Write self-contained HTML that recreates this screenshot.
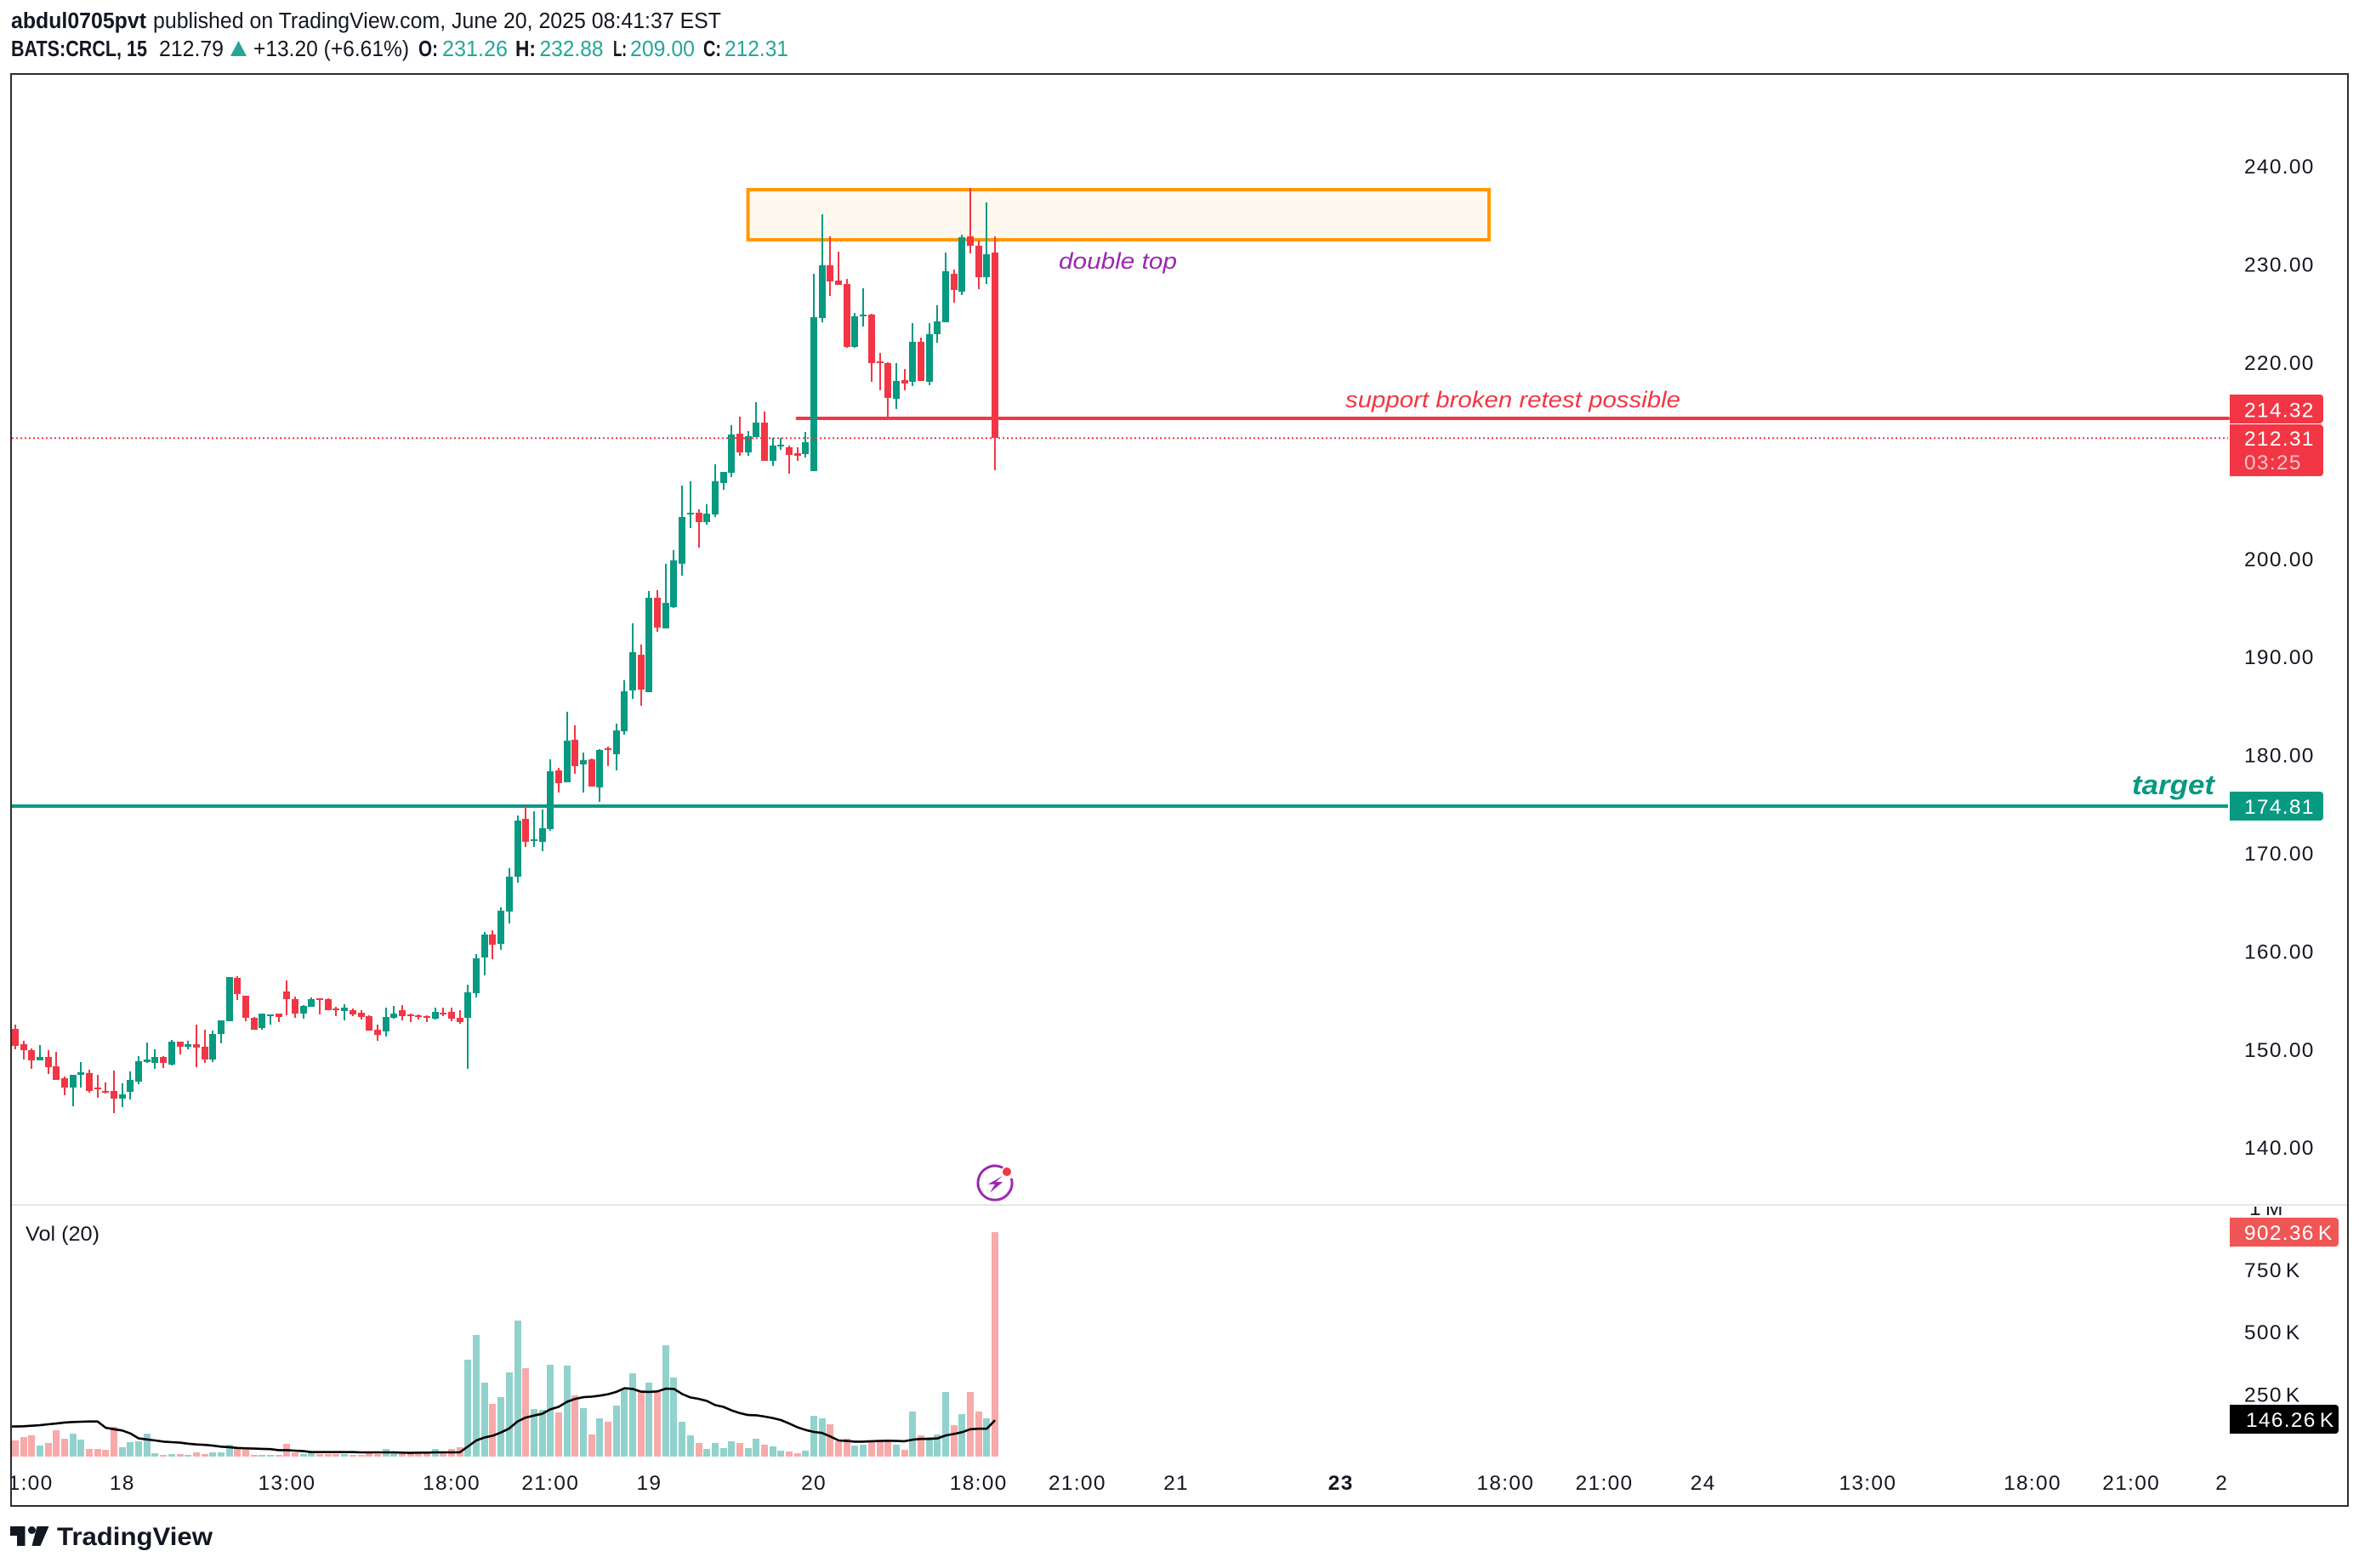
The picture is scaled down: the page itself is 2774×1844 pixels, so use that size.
<!DOCTYPE html>
<html lang="en">
<head>
<meta charset="utf-8">
<title>BATS:CRCL 15 chart</title>
<style>
html,body{margin:0;padding:0;background:#fff;}
svg{display:block;font-family:"Liberation Sans",sans-serif;}
.tick{font-size:24.5px;fill:#131722;letter-spacing:1.3px;word-spacing:-4px;}
.hdr{font-size:25.5px;fill:#131722;}
.b{font-weight:bold;}
.g{fill:#26a69a;}
</style>
</head>
<body>
<svg id="chart" xmlns="http://www.w3.org/2000/svg" width="2774" height="1844" viewBox="0 0 2774 1844">
  <defs>
    <clipPath id="paneClip"><rect x="14" y="88" width="2746" height="1329"/></clipPath>
    <clipPath id="timeClip"><rect x="14" y="1720" width="2746" height="50"/></clipPath>
    <clipPath id="volAxisClip"><rect x="2600" y="1419" width="160" height="40"/></clipPath>
  </defs>
  <rect x="0" y="0" width="2774" height="1844" fill="#ffffff"/>

  <g>
    <text class="hdr b" x="13" y="33" textLength="159" lengthAdjust="spacingAndGlyphs">abdul0705pvt</text>
    <text class="hdr" x="180" y="33" textLength="668" lengthAdjust="spacingAndGlyphs">published on TradingView.com, June 20, 2025 08:41:37 EST</text>
  </g>
  <g>
    <text class="hdr b" x="13" y="66" textLength="160" lengthAdjust="spacingAndGlyphs">BATS:CRCL, 15</text>
    <text class="hdr" x="187" y="66" textLength="76" lengthAdjust="spacingAndGlyphs">212.79</text>
    <polygon points="271,66 280.5,48 290,66" fill="#26a69a"/>
    <text class="hdr" x="298" y="66" textLength="183" lengthAdjust="spacingAndGlyphs">+13.20 (+6.61%)</text>
    <text class="hdr b" x="492" y="66" textLength="23" lengthAdjust="spacingAndGlyphs">O:</text>
    <text class="hdr g" x="520" y="66" textLength="77" lengthAdjust="spacingAndGlyphs">231.26</text>
    <text class="hdr b" x="606" y="66" textLength="24" lengthAdjust="spacingAndGlyphs">H:</text>
    <text class="hdr g" x="634.5" y="66" textLength="75" lengthAdjust="spacingAndGlyphs">232.88</text>
    <text class="hdr b" x="721" y="66" textLength="16" lengthAdjust="spacingAndGlyphs">L:</text>
    <text class="hdr g" x="741" y="66" textLength="76" lengthAdjust="spacingAndGlyphs">209.00</text>
    <text class="hdr b" x="827" y="66" textLength="21" lengthAdjust="spacingAndGlyphs">C:</text>
    <text class="hdr g" x="852" y="66" textLength="75" lengthAdjust="spacingAndGlyphs">212.31</text>
  </g>

  <g id="drawingsUnder"></g>
  <g id="volumeBars"></g>
  <g id="candles"></g>
  <g id="drawingsOver"></g>

  <text x="1245" y="316" font-size="27" font-style="italic" fill="#9c27b0" textLength="139" lengthAdjust="spacingAndGlyphs">double top</text>
  <text x="1582" y="479" font-size="27" font-style="italic" fill="#f23645" textLength="394" lengthAdjust="spacingAndGlyphs">support broken retest possible</text>
  <text x="2507" y="934" font-size="32" font-style="italic" font-weight="bold" fill="#089981" textLength="97" lengthAdjust="spacingAndGlyphs">target</text>

  <rect x="14" y="1416" width="2746" height="2" fill="#e6e6e6"/>

  <g id="priceAxis"></g>
  <g id="volumeAxis"></g>
  <g id="timeAxis" clip-path="url(#timeClip)"></g>

  <g>
    <path d="M2622 464H2728a4 4 0 0 1 4 4V495l-3 3H2622Z" fill="#f23645"/>
    <path d="M2622 499H2729l3 3V556a4 4 0 0 1 -4 4H2622Z" fill="#f23645"/>
    <text x="2639" y="490.5" font-size="24.5" letter-spacing="1.3" fill="#ffffff">214.32</text>
    <text x="2639" y="524" font-size="24.5" letter-spacing="1.3" fill="#ffffff">212.31</text>
    <text x="2639" y="552" font-size="24.5" letter-spacing="1.3" fill="#fbc2c7">03:25</text>
    <path d="M2622 931H2728a4 4 0 0 1 4 4V961a4 4 0 0 1 -4 4H2622Z" fill="#089981"/>
    <text x="2639" y="957" font-size="24.5" letter-spacing="1.3" fill="#ffffff">174.81</text>
    <path d="M2622 1432H2746a4 4 0 0 1 4 4V1462a4 4 0 0 1 -4 4H2622Z" fill="#f05656"/>
    <text x="2639" y="1458" font-size="24.5" letter-spacing="1.3" word-spacing="-4" fill="#ffffff">902.36 K</text>
    <path d="M2622 1652H2746a4 4 0 0 1 4 4V1682a4 4 0 0 1 -4 4H2622Z" fill="#000000"/>
    <text x="2641" y="1678" font-size="24.5" letter-spacing="1.3" word-spacing="-4" fill="#ffffff">146.26 K</text>
  </g>

  <text x="30" y="1459" font-size="24" fill="#131722" textLength="87" lengthAdjust="spacingAndGlyphs">Vol (20)</text>

  <g>
    <path d="M1178 1372.8A20 20 0 1 0 1189.6 1387" fill="none" stroke="#9c27b0" stroke-width="3" stroke-linecap="round"/>
    <path d="M1179.3 1382.7L1161.7 1392.7H1170L1164 1402.7L1179.3 1390H1171Z" fill="#9c27b0"/>
    <circle cx="1184" cy="1378" r="5" fill="#f23645"/>
  </g>

  <rect x="13" y="87" width="2748" height="1684" fill="none" stroke="#2e2e2e" stroke-width="2"/>

  <g>
    <path d="M12 1795H29.5V1818H20V1806H12Z" fill="#131722"/>
    <circle cx="37.5" cy="1799.5" r="4.5" fill="#131722"/>
    <path d="M43.5 1795H57.5L47.5 1818H37.5Z" fill="#131722"/>
    <text x="67" y="1817" font-size="30" font-weight="bold" fill="#131722" textLength="183" lengthAdjust="spacingAndGlyphs">TradingView</text>
  </g>
</svg>

<script>
const opens = [152.10,150.54,149.94,148.90,149.24,148.29,147.08,146.12,147.42,147.60,146.12,145.78,145.78,145.00,145.69,146.73,148.72,148.64,149.24,148.46,150.80,150.28,150.54,150.28,148.98,151.58,152.88,157.30,155.48,153.23,152.19,153.40,153.66,155.92,155.14,153.66,154.36,155.22,155.14,154.18,153.92,154.01,153.75,153.40,152.02,151.84,153.23,154.01,153.58,153.49,153.40,153.14,153.75,153.84,153.23,153.23,155.74,159.38,161.72,160.77,164.06,167.61,173.50,171.25,171.16,172.46,178.44,177.23,181.56,179.05,179.57,176.71,180.70,180.09,182.43,186.59,190.23,186.42,196.04,192.92,195.08,199.51,204.53,204.71,203.75,204.53,207.74,208.78,212.76,210.86,212.42,213.89,209.99,211.46,211.38,210.77,210.68,208.95,224.55,229.92,228.36,228.02,221.60,224.72,224.90,220.13,219.96,216.32,218.22,218.05,222.12,218.05,222.90,224.12,229.06,227.24,232.87,231.92,228.71,231.26];
const highs = [152.54,150.89,150.11,150.46,149.94,149.76,147.25,147.42,148.72,147.94,147.42,146.64,147.86,146.56,147.77,149.33,150.72,150.02,149.33,150.98,150.80,150.89,152.54,152.02,151.93,152.97,157.39,157.48,155.48,153.32,153.66,153.58,153.66,157.04,155.40,154.53,155.31,155.22,155.22,154.36,154.62,154.18,154.01,153.49,152.54,154.27,154.44,154.53,153.66,153.58,153.49,154.27,154.27,154.27,154.01,156.61,159.73,161.98,162.16,164.50,168.48,173.85,174.80,174.28,174.46,179.57,178.70,184.42,183.04,180.26,179.66,180.61,180.87,183.21,187.63,193.44,191.27,196.73,196.82,199.50,200.89,207.48,207.91,205.05,205.57,209.65,208.86,213.63,214.50,213.02,215.97,215.02,212.33,212.33,211.55,211.38,212.94,229.06,235.12,232.87,231.31,228.54,225.07,227.58,224.98,221.00,220.04,219.96,219.35,224.03,222.56,224.03,225.85,231.22,229.49,233.04,237.81,232.44,236.34,232.88];
const lows = [150.02,148.98,148.03,148.90,147.51,146.90,145.34,144.22,146.12,145.60,145.08,145.52,143.52,144.13,144.91,146.47,148.64,148.03,148.12,148.38,149.50,150.02,148.20,148.64,148.72,150.63,152.88,155.05,152.88,152.02,152.02,152.54,152.80,153.49,153.23,153.14,154.36,153.58,154.01,153.40,152.97,153.40,153.06,151.93,150.89,151.32,153.14,152.97,152.80,153.06,152.80,153.06,153.40,152.88,152.62,148.03,155.31,157.56,159.21,160.17,162.85,167.00,170.64,170.64,170.21,172.29,176.19,177.23,178.10,176.19,176.80,175.24,178.88,178.44,182.08,185.72,185.03,186.42,192.57,192.92,195.00,198.29,203.15,201.15,203.49,204.27,207.04,208.34,210.51,210.51,212.42,209.99,209.47,211.12,208.69,209.99,210.34,208.95,224.12,226.80,227.93,221.52,221.52,223.68,218.05,217.18,214.50,215.28,217.18,217.62,218.14,217.70,222.04,224.12,226.11,226.89,231.14,227.50,228.02,209.00];
const closes = [150.37,149.94,148.90,149.24,148.20,146.90,146.12,147.42,147.68,145.78,145.95,145.60,145.00,145.43,146.90,148.81,148.98,149.24,148.64,150.80,150.28,150.54,150.20,148.98,151.58,152.97,157.39,155.66,153.23,152.02,153.66,153.58,153.32,155.14,153.66,154.44,155.14,155.05,154.01,154.01,154.27,153.58,153.32,151.93,151.50,153.32,153.66,153.40,153.40,153.32,153.23,153.84,153.58,153.14,152.80,155.83,159.30,161.72,160.68,164.15,167.62,173.33,171.16,171.42,172.55,178.36,177.14,181.48,178.88,179.48,176.80,180.52,180.52,182.52,186.50,190.49,186.68,196.04,193.00,195.52,199.85,204.27,204.71,203.75,204.62,207.91,208.86,212.68,210.86,212.50,213.89,209.99,211.55,211.64,210.60,210.51,211.90,224.64,229.92,228.28,227.93,221.60,224.72,224.90,219.96,219.96,216.40,218.14,217.88,222.12,218.14,222.90,224.20,229.32,227.41,232.78,231.92,228.71,231.05,212.31];
const volumes = [65,79,85,44,55,106,72,92,68,31,31,27,120,38,58,62,92,14,7,10,10,7,17,10,17,17,48,34,27,7,7,7,7,51,17,10,17,10,10,10,10,7,7,14,10,31,14,21,14,21,14,31,14,31,38,390,489,297,212,239,338,547,355,191,188,369,178,366,246,195,89,154,140,205,273,335,261,297,261,448,318,140,85,55,31,55,34,62,55,34,72,48,41,24,21,14,24,164,154,130,62,72,44,48,62,62,62,48,27,181,85,79,89,260,126,171,260,181,154,902.36];
const volumeMA = [121,122,124,126,130,133,137,139,140,141,141,116,110,105,93,73,69,65,60,58,56,52,49,47,44,40,38,35,33,32,31,30,26,26,24,22,18,18,18,18,18,18,17,17,17,17,17,16,15,16,16,17,17,17,17,41,65,77,84,97,113,141,157,165,172,190,200,220,232,239,241,245,251,260,275,272,261,260,262,273,272,252,238,232,224,207,200,186,175,167,166,161,155,147,133,118,107,99,95,81,65,63,60,60,62,63,64,63,62,68,71,71,73,85,91,98,110,112,112,146.26];
const priceTicks = ["240.00","230.00","220.00","210.00","200.00","190.00","180.00","170.00","160.00","150.00","140.00"];
const volumeTicks = [750,500,250];
const timeLabels = ["11:00","18","13:00","18:00","21:00","19","20","18:00","21:00","21","23","18:00","21:00","24","13:00","18:00","21:00","2"];
const timeBars = [1.2,13,33,53,65,77,97,117,129,141,161,181,193,205,225,245,257,268];
const boldTimeLabels = ["23"];
const targetLevel = 174.81;
const supportLevel = 214.32;
const lastClose = 212.31;
const zoneTop = 237.63;
const zoneBottom = 232.52;
const zoneStartBar = 89;
const zoneEndBar = 179;
const supportStartBar = 95;

const NS = "http://www.w3.org/2000/svg";
const GREEN = "#089981";
const RED = "#f23645";
const GREEN_VOL = "#92d2cc";
const RED_VOL = "#f8a9a9";
const AXIS_LINE_END = 2620;
const PANE_LEFT = 14;

function xOf(i){ return 17.9 + i * 9.682; }
function yOf(p){ return 948 - (p - 174.81) * 11.54; }
function yVol(v){ return 1713 - v * 0.2926; }
function shape(tag, attrs){
  const el = document.createElementNS(NS, tag);
  for (const k in attrs) el.setAttribute(k, attrs[k]);
  return el;
}

const under = document.getElementById("drawingsUnder");
const over = document.getElementById("drawingsOver");
const candleGroup = document.getElementById("candles");
const volGroup = document.getElementById("volumeBars");
const priceAxis = document.getElementById("priceAxis");
const volumeAxis = document.getElementById("volumeAxis");
const timeAxis = document.getElementById("timeAxis");

const zone = shape("rect", {x: xOf(zoneStartBar), y: yOf(zoneTop), width: xOf(zoneEndBar) - xOf(zoneStartBar), height: yOf(zoneBottom) - yOf(zoneTop), fill: "#fff8ee", stroke: "#ff9800", "stroke-width": 4});


under.appendChild(zone);

const supportLine = shape("line", {x1: xOf(supportStartBar), x2: AXIS_LINE_END, y1: yOf(supportLevel), y2: yOf(supportLevel), stroke: RED, "stroke-width": 4, "stroke-linecap": "round"});


under.appendChild(supportLine);

const targetLine = shape("line", {x1: PANE_LEFT, x2: AXIS_LINE_END, y1: yOf(targetLevel), y2: yOf(targetLevel), stroke: GREEN, "stroke-width": 4});


under.appendChild(targetLine);

const lastLine = shape("line", {x1: PANE_LEFT, x2: AXIS_LINE_END, y1: yOf(lastClose), y2: yOf(lastClose), stroke: RED, "stroke-width": 2, "stroke-dasharray": "2 3"});


over.appendChild(lastLine);

closes.forEach(function(c, i){
  const up = c >= opens[i];
  const color = up ? GREEN : RED;
  const cx = Math.round(xOf(i));
  const top = Math.round(yOf(Math.max(opens[i], c)));
  const bottom = Math.round(yOf(Math.min(opens[i], c)));
  const wickTop = Math.round(yOf(highs[i]));
  const wickBottom = Math.round(yOf(lows[i]));

  const wick = shape("rect", {x: cx - 1, y: wickTop, width: 2, height: Math.max(1, wickBottom - wickTop), fill: color});
  
  
  candleGroup.appendChild(wick);

  const body = shape("rect", {x: cx - 4, y: top, width: 8, height: Math.max(2, bottom - top), fill: color});
  
  
  candleGroup.appendChild(body);

  const vTop = Math.round(yVol(volumes[i]));
  const bar = shape("rect", {x: cx - 4, y: vTop, width: 8, height: 1713 - vTop, fill: up ? GREEN_VOL : RED_VOL});
  
  
  volGroup.appendChild(bar);
});

let maPath = "M" + PANE_LEFT + " " + yVol(volumeMA[0]).toFixed(1);
volumeMA.forEach(function(v, i){
  maPath += "L" + xOf(i).toFixed(1) + " " + yVol(v).toFixed(1);
});
const maLine = shape("path", {d: maPath, fill: "none", stroke: "#000000", "stroke-width": 2.6, "stroke-linejoin": "round"});


over.appendChild(maLine);

priceTicks.forEach(function(label){
  const t = shape("text", {x: 2639, y: yOf(parseFloat(label)) + 8.5, class: "tick"});
  
  
  t.textContent = label;
  priceAxis.appendChild(t);
});

const oneM = shape("text", {x: 2645, y: 1429, class: "tick", "clip-path": "url(#volAxisClip)"});


oneM.textContent = "1 M";
volumeAxis.appendChild(oneM);

volumeTicks.forEach(function(v){
  const t = shape("text", {x: 2639, y: yVol(v) + 8.5, class: "tick"});
  
  
  t.textContent = v + " K";
  volumeAxis.appendChild(t);
});

timeLabels.forEach(function(label, i){
  const t = shape("text", {x: xOf(timeBars[i]), y: 1752, "text-anchor": "middle", class: "tick"});
  
  
  if (boldTimeLabels.indexOf(label) >= 0) t.setAttribute("font-weight", "bold");
  t.textContent = label;
  timeAxis.appendChild(t);
});
</script>
</body>
</html>
